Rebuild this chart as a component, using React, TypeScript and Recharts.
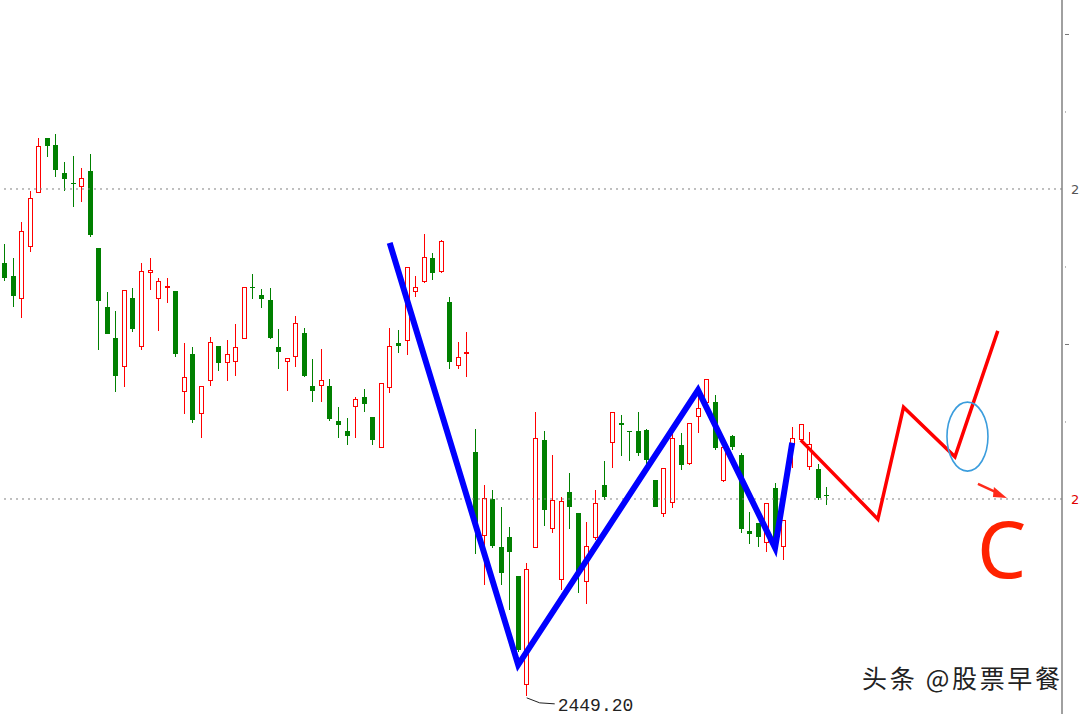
import React from "react";
import {
  Bar,
  ComposedChart,
  Line,
  ReferenceDot,
  ReferenceLine,
  XAxis,
  YAxis,
} from "recharts";

// daily candles (index 0 = leftmost)
const opens = [
  2560.9, 2557.6, 2551.6, 2565.0, 2579.0, 2593.2, 2591.4, 2584.1, 2581.5, 2580.5,
  2584.7, 2564.8, 2549.6, 2541.6, 2534.1, 2551.9, 2539.2, 2558.3, 2551.6, 2554.6,
  2553.7, 2527.6, 2537.4, 2521.9, 2530.5, 2539.5, 2535.1, 2535.4, 2541.3, 2554.8,
  2552.7, 2551.4, 2539.2, 2535.4, 2536.7, 2542.8, 2529.2, 2529.2, 2529.2, 2520.1,
  2517.6, 2523.7, 2526.3, 2521.2, 2513.2, 2528.7, 2540.3, 2540.8, 2553.4, 2556.0,
  2562.2, 2558.6, 2550.8, 2534.3, 2537.6, 2512.1, 2490.5, 2500.0, 2487.6, 2490.2,
  2480.1, 2452.0, 2487.4, 2515.2, 2492.3, 2479.1, 2501.8, 2496.4, 2478.6, 2489.9,
  2503.6, 2514.5, 2519.5, 2517.6, 2517.6, 2517.8, 2504.9, 2496.1, 2499.0, 2513.9,
  2509.0, 2521.2, 2524.8, 2525.0, 2504.7, 2516.3, 2511.4, 2491.7, 2493.8, 2488.7,
  2502.8, 2487.6, 2513.9, 2515.2, 2508.3, 2507.7, 2501.1,
];
const closes = [
  2557.0, 2552.4, 2569.2, 2577.7, 2591.1, 2591.1, 2584.9, 2582.6, 2581.2, 2582.8,
  2568.1, 2551.1, 2542.6, 2531.7, 2553.9, 2543.9, 2558.8, 2559.1, 2556.3, 2554.8,
  2537.4, 2531.5, 2520.4, 2529.2, 2540.5, 2535.1, 2537.4, 2539.2, 2554.7, 2554.6,
  2551.6, 2541.6, 2537.9, 2536.4, 2545.4, 2531.7, 2527.9, 2530.7, 2520.7, 2519.1,
  2516.3, 2525.8, 2524.5, 2515.2, 2529.9, 2539.5, 2539.5, 2559.9, 2554.7, 2562.5,
  2558.3, 2566.6, 2535.4, 2536.7, 2537.8, 2493.8, 2500.3, 2487.9, 2480.9, 2486.3,
  2461.0, 2481.9, 2515.7, 2497.2, 2499.7, 2499.5, 2497.9, 2480.9, 2487.9, 2499.0,
  2500.5, 2522.5, 2519.2, 2517.5, 2511.9, 2510.1, 2497.9, 2508.0, 2515.7, 2508.8,
  2519.6, 2523.5, 2531.0, 2513.2, 2513.4, 2513.4, 2492.3, 2491.0, 2490.2, 2499.0,
  2488.7, 2494.6, 2515.7, 2519.4, 2514.2, 2500.3, 2500.9,
];
const highs = [
  2565.8, 2562.2, 2571.5, 2579.5, 2593.2, 2593.2, 2594.2, 2587.0, 2588.5, 2585.4,
  2589.0, 2564.8, 2553.4, 2548.5, 2553.9, 2554.5, 2560.9, 2562.2, 2557.0, 2557.0,
  2553.7, 2540.3, 2539.2, 2529.2, 2541.8, 2539.5, 2541.0, 2545.2, 2554.7, 2558.1,
  2554.2, 2554.5, 2543.9, 2536.4, 2547.2, 2544.1, 2536.1, 2538.7, 2531.0, 2523.7,
  2520.9, 2526.3, 2528.4, 2521.2, 2529.9, 2544.1, 2543.6, 2559.9, 2557.6, 2568.4,
  2563.5, 2566.8, 2552.1, 2540.5, 2543.1, 2518.1, 2503.6, 2502.3, 2497.9, 2492.8,
  2480.1, 2483.5, 2522.5, 2517.6, 2511.4, 2500.5, 2506.7, 2496.4, 2494.1, 2502.3,
  2509.8, 2522.5, 2521.7, 2517.6, 2522.5, 2518.1, 2504.9, 2508.0, 2517.0, 2517.0,
  2519.6, 2526.8, 2531.0, 2526.8, 2513.4, 2516.5, 2511.9, 2496.7, 2493.8, 2499.0,
  2504.1, 2494.6, 2518.6, 2519.4, 2517.3, 2509.0, 2503.1,
];
const lows = [
  2556.3, 2549.6, 2546.7, 2563.7, 2579.0, 2588.3, 2583.1, 2579.5, 2575.4, 2576.6,
  2567.6, 2538.5, 2542.6, 2527.6, 2528.9, 2543.1, 2538.5, 2553.9, 2543.4, 2550.6,
  2536.7, 2521.9, 2519.6, 2515.7, 2529.2, 2533.0, 2530.5, 2531.7, 2541.3, 2551.6,
  2549.3, 2541.3, 2533.6, 2527.9, 2534.1, 2531.5, 2525.0, 2525.0, 2520.1, 2515.7,
  2513.9, 2515.7, 2522.5, 2513.9, 2513.2, 2527.4, 2537.7, 2537.2, 2552.1, 2555.7,
  2556.5, 2558.3, 2533.6, 2533.6, 2531.5, 2485.8, 2477.8, 2487.4, 2477.8, 2471.4,
  2460.5, 2449.2, 2487.4, 2493.0, 2491.2, 2476.5, 2492.3, 2475.7, 2472.9, 2489.4,
  2499.7, 2508.0, 2511.1, 2509.8, 2511.1, 2508.3, 2497.9, 2495.4, 2497.7, 2507.5,
  2508.8, 2517.0, 2524.3, 2512.7, 2504.4, 2512.7, 2491.2, 2488.4, 2487.6, 2486.3,
  2487.4, 2484.3, 2508.0, 2515.2, 2507.5, 2499.7, 2498.5,
];

// hand-drawn wave lines (slot index, price)
const blueIdx = [45, 60, 81, 90, 92];
const bluePrice = [2566.1, 2457.2, 2528.1, 2487.4, 2514.5];
const redIdx = [93, 102, 105, 111, 116];
const redPrice = [2515.2, 2494.8, 2523.7, 2510.9, 2543.4];

const yTicks = [2500, 2520, 2540, 2560, 2580, 2600, 2620];
const labelTicks = [2500, 2580];
const lowLabel = "2449.20";

const SLOTS = 124;
const UP = "#ff0000";
const DOWN = "#008000";

const rows = Array.from({ length: SLOTS }, (_, i) => {
  const b = blueIdx.indexOf(i);
  const r = redIdx.indexOf(i);
  const has = i < opens.length;
  return {
    i,
    range: has ? [lows[i], highs[i]] : null,
    open: opens[i],
    close: closes[i],
    high: highs[i],
    low: lows[i],
    blue: b >= 0 ? bluePrice[b] : null,
    red: r >= 0 ? redPrice[r] : null,
  };
});

const Candle = (props: any) => {
  const { x, y, width, height, payload } = props;
  if (!payload || payload.range == null) return null;
  const top = Math.min(y, y + height);
  const h = Math.abs(height);
  const { open, close, high, low } = payload;
  const span = high - low;
  const py = (v: number) => (span === 0 ? top : top + ((high - v) / span) * h);
  const c = Math.floor(x + width / 2);
  const up = close >= open;
  const color = up ? UP : DOWN;
  const bTop = Math.round(py(Math.max(open, close)));
  const bBot = Math.round(py(Math.min(open, close)));
  return (
    <g>
      <line x1={c + 0.5} x2={c + 0.5} y1={Math.round(top)} y2={Math.round(top + h)} stroke={color} strokeWidth={1} />
      {up ? (
        bBot - bTop < 2 ? (
          <rect x={c - 2} y={bTop - 1} width={5} height={2} fill={color} />
        ) : (
          <rect x={c - 1.5} y={bTop + 0.5} width={4} height={bBot - bTop - 1} fill="#fff" stroke={color} strokeWidth={1} />
        )
      ) : (
        <rect x={c - 2} y={bTop} width={5} height={Math.max(1, bBot - bTop)} fill={color} />
      )}
    </g>
  );
};

const AxisTick = (props: any) => {
  const { y, payload } = props;
  const v = payload.value;
  if (labelTicks.includes(v)) {
    return (
      <text x={1071} y={y + 5} fontSize={13} fill={v === 2500 ? "#e00000" : "#555"} fontFamily="DejaVu Sans">
        {v.toFixed(2)}
      </text>
    );
  }
  const dash = v === 2620 || v === 2540;
  return <line x1={1065} x2={dash ? 1069 : 1066} y1={y + 0.5} y2={y + 0.5} stroke="#777" strokeWidth={1} />;
};

const LowMark = (props: any) => {
  const { cx, cy } = props;
  return (
    <g>
      <polyline
        points={`${cx},${cy + 2} ${cx + 13},${cy + 7} ${cx + 28},${cy + 8}`}
        fill="none"
        stroke="#222"
        strokeWidth={1}
      />
      <text x={cx + 31} y={cy + 15} fontSize={18} fontFamily="Liberation Mono" fill="#222">
        {lowLabel}
      </text>
    </g>
  );
};

const Ring = (props: any) => (
  <ellipse cx={props.cx - 4.6} cy={props.cy} rx={20.5} ry={34.5} fill="none" stroke="#3b9ddd" strokeWidth={1.6} />
);

const Arrow = (props: any) => {
  const { cx, cy } = props;
  return (
    <g>
      <line x1={cx - 2.7} y1={cy} x2={cx + 19} y2={cy + 10} stroke="#ff2a1a" strokeWidth={2.5} />
      <polygon
        points={`${cx + 26.3},${cy + 14} ${cx + 13.3},${cy + 3} ${cx + 12.3},${cy + 13}`}
        fill="#ff2a1a"
      />
    </g>
  );
};

export default function App() {
  return (
    <div
      style={{
        position: "absolute",
        left: 0,
        top: 0,
        width: 1080,
        height: 714,
        overflow: "hidden",
        background: "#fff",
        fontFamily: "DejaVu Sans, sans-serif",
      }}
    >
      <ComposedChart
        width={1080}
        height={714}
        data={rows}
        margin={{ top: 0, right: 0, bottom: 0, left: 0 }}
        barCategoryGap={0}
      >
        <XAxis dataKey="i" hide />
        <YAxis
          orientation="right"
          width={18}
          domain={[2444.516, 2628.774]}
          allowDataOverflow
          ticks={yTicks}
          interval={0}
          tickLine={false}
          axisLine={{ stroke: "#808080", strokeWidth: 1.5 }}
          tick={<AxisTick />}
        />
        <ReferenceLine y={2580} stroke="#808080" strokeDasharray="2 4" />
        <ReferenceLine y={2500} stroke="#808080" strokeDasharray="2 4" />
        <Bar dataKey="range" shape={<Candle />} isAnimationActive={false} />
        <Line
          dataKey="blue"
          stroke="#0000ff"
          strokeWidth={6}
          dot={false}
          connectNulls
          strokeLinejoin="miter"
          isAnimationActive={false}
        />
        <Line
          dataKey="red"
          stroke="#ff0000"
          strokeWidth={3.5}
          dot={false}
          connectNulls
          strokeLinejoin="miter"
          isAnimationActive={false}
        />
        <ReferenceDot x={61} y={lows[61]} shape={<LowMark />} />
        <ReferenceDot x={113} y={2516.1} shape={<Ring />} />
        <ReferenceDot x={114} y={2503.9} shape={<Arrow />} />
      </ComposedChart>
      <svg
        width={1080}
        height={714}
        style={{ position: "absolute", left: 0, top: 0, pointerEvents: "none" }}
      >
        <text x={977} y={578} fontSize={78} fontFamily="Noto Sans" fill="#ff2200">
          C
        </text>
        <text
          x={862}
          y={688}
          fontSize={25}
          fontFamily="Noto Sans CJK SC"
          fill="#222"
          textLength={198}
          lengthAdjust="spacing"
        >
          头条 @股票早餐
        </text>
      </svg>
    </div>
  );
}
